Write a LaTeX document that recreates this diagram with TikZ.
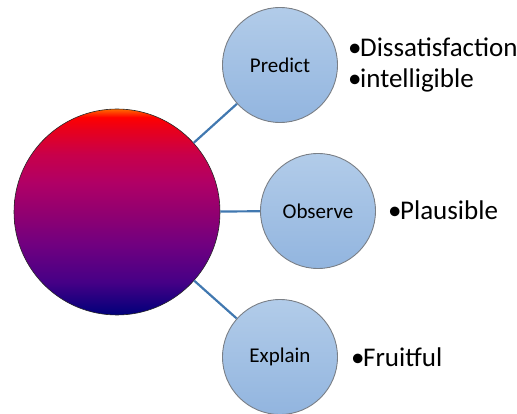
\documentclass[tikz,border=0pt]{standalone}
\usepackage{fontspec}
\setmainfont{Carlito}
\usetikzlibrary{positioning}
\definecolor{linkblue}{HTML}{4178B0}
\definecolor{ballrim}{HTML}{7A7F86}
\definecolor{balltop}{HTML}{B2CCE9}
\definecolor{ballbot}{HTML}{92B5DF}
\pgfdeclareverticalshading{hubshade}{100bp}{%
  color(0bp)=(rgb,255:red,0;green,0;blue,122);
  color(25bp)=(rgb,255:red,0;green,0;blue,122);
  color(33bp)=(rgb,255:red,70;green,0;blue,134);
  color(42bp)=(rgb,255:red,112;green,0;blue,128);
  color(50bp)=(rgb,255:red,146;green,0;blue,112);
  color(57bp)=(rgb,255:red,176;green,0;blue,102);
  color(64bp)=(rgb,255:red,200;green,0;blue,74);
  color(70bp)=(rgb,255:red,232;green,0;blue,28);
  color(73bp)=(rgb,255:red,255;green,0;blue,0);
  color(75bp)=(rgb,255:red,255;green,106;blue,0);
  color(100bp)=(rgb,255:red,255;green,106;blue,0)}
\newcommand{\bul}{•\kern-1.5pt}

\begin{document}
\begin{tikzpicture}[x=1pt, y=1pt,
  hub/.style={circle, draw=black!85, line width=0.6pt, shading=hubshade, minimum size=206pt, inner sep=0pt},
  stage/.style={circle, draw=ballrim, line width=0.9pt, top color=balltop, bottom color=ballbot, minimum size=115pt, inner sep=0pt, font=\fontsize{21}{25}\selectfont},
  item/.style={anchor=base west, inner sep=0pt, font=\fontsize{27}{32}\selectfont},
  link/.style={draw=linkblue, line width=2.2pt}]
  \useasboundingbox (0,0) rectangle (517,-414);
  \node[hub] (hub) at (117,-212) {};
  \node[stage] (predict) at (280,-65) {Predict};
  \node[stage] (observe) at (318,-211) {Observe};
  \node[stage] (explain) at (280,-357) {Explain};
  \draw[link] (hub) -- (predict);
  \draw[link] (hub) -- (observe);
  \draw[link] (hub) -- (explain);
  % bullet texts
  \node[item] (dissat) at (348,-57) {\bul Dissatisfaction};
  \node[item] (intell) at (348,-88) {\bul intelligible};
  \node[item] (plaus) at (388,-220) {\bul Plausible};
  \node[item] (fruit) at (351,-366) {\bul Fruitful};
\end{tikzpicture}
\end{document}
